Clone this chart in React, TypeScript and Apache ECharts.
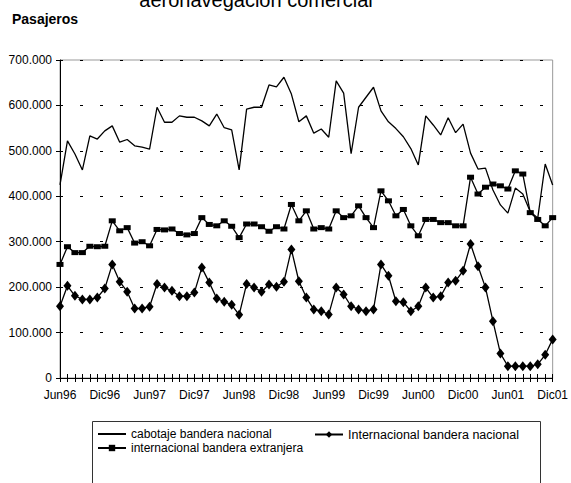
import React, { useEffect, useRef } from "react";
import * as echarts from "echarts";

const monthNames = ["Ene", "Feb", "Mar", "Abr", "May", "Jun", "Jul", "Ago", "Sep", "Oct", "Nov", "Dic"];
const categories: string[] = [];
for (let y = 1996; y <= 2001; y++) {
  for (let m = 0; m < 12; m++) {
    if (y === 1996 && m < 5) continue;
    categories.push(monthNames[m] + String(y).slice(2));
  }
}

const seriesNames = [
  "cabotaje bandera nacional",
  "Internacional bandera nacional",
  "internacional bandera extranjera",
];

const cabotaje = [
  425000, 522000, 493000, 458000, 533000, 526000, 544000, 555000, 519000, 525000,
  511000, 508000, 504000, 596000, 563000, 563000, 577000, 574000, 574000, 566000,
  555000, 581000, 551000, 546000, 458000, 592000, 596000, 596000, 645000, 641000,
  662000, 625000, 564000, 577000, 539000, 548000, 530000, 654000, 627000, 494000,
  596000, 618000, 640000, 588000, 564000, 549000, 531000, 505000, 469000, 577000,
  557000, 535000, 573000, 540000, 559000, 495000, 460000, 462000, 414000, 381000,
  363000, 418000, 405000, 366000, 352000, 471000, 425000,
];

const internacionalNacional = [
  158000, 203000, 181000, 173000, 173000, 177000, 197000, 250000, 212000, 190000,
  153000, 153000, 157000, 207000, 199000, 192000, 180000, 180000, 188000, 243000,
  210000, 175000, 168000, 161000, 139000, 207000, 199000, 190000, 206000, 201000,
  212000, 283000, 213000, 177000, 151000, 147000, 140000, 199000, 184000, 158000,
  151000, 147000, 151000, 250000, 225000, 169000, 167000, 147000, 158000, 199000,
  177000, 180000, 210000, 214000, 236000, 295000, 246000, 199000, 125000, 54000,
  26000, 26000, 26000, 26000, 30000, 51000, 85000,
];

const internacionalExtranjera = [
  250000, 289000, 276000, 276000, 290000, 289000, 290000, 346000, 324000, 331000,
  297000, 300000, 291000, 327000, 326000, 328000, 318000, 315000, 318000, 353000,
  338000, 335000, 346000, 334000, 309000, 339000, 339000, 333000, 323000, 333000,
  328000, 382000, 346000, 368000, 328000, 331000, 328000, 368000, 353000, 357000,
  379000, 353000, 331000, 412000, 390000, 357000, 371000, 335000, 313000, 349000,
  349000, 342000, 342000, 335000, 335000, 442000, 405000, 420000, 427000, 423000,
  416000, 456000, 449000, 364000, 349000, 335000, 353000,
];

const titleText = "aeronavegación comercial";
const yAxisTitle = "Pasajeros";

const FONT = "'Liberation Sans', Arial, sans-serif";

function fmt(v: number): string {
  return String(v).replace(/\B(?=(\d{3})+(?!\d))/g, ".");
}

export default function App() {
  const ref = useRef<HTMLDivElement>(null);
  useEffect(() => {
    if (!ref.current) return;
    const chart = echarts.init(ref.current, null, { renderer: "svg" });
    const legendText = { fontSize: 12, color: "#000", fontFamily: FONT };
    chart.setOption({
      animation: false,
      backgroundColor: "#ffffff",
      textStyle: { fontFamily: FONT },
      grid: {
        left: 60,
        top: 60,
        right: 18,
        bottom: 105,
        show: true,
        borderColor: "#999999",
        borderWidth: 1,
      },
      graphic: [
        {
          type: "text",
          x: 256,
          y: 0,
          style: {
            text: titleText,
            font: `20px ${FONT}`,
            fill: "#000",
            textAlign: "center",
            textVerticalAlign: "middle",
          },
        },
        {
          type: "text",
          x: 12,
          y: 18.5,
          style: {
            text: yAxisTitle,
            font: `bold 14px ${FONT}`,
            fill: "#000",
            textAlign: "left",
            textVerticalAlign: "middle",
          },
        },
        {
          type: "rect",
          shape: { x: 92.5, y: 421.5, width: 448, height: 80 },
          style: { fill: "none", stroke: "#333", lineWidth: 1 },
          z: 1,
        },
      ],
      legend: [
        {
          data: [
            { name: seriesNames[0], itemStyle: { opacity: 0 } },
            { name: seriesNames[2] },
          ],
          orient: "vertical",
          left: 97,
          top: 428,
          itemWidth: 28,
          itemHeight: 8,
          itemGap: 2,
          textStyle: legendText,
          padding: 0,
        },
        {
          data: [{ name: seriesNames[1] }],
          orient: "vertical",
          left: 314,
          top: 428,
          itemWidth: 28,
          itemHeight: 8,
          itemGap: 2,
          textStyle: { ...legendText, fontSize: 12.5 },
          padding: 0,
        },
      ],
      xAxis: [
        {
          type: "category",
          data: categories,
          boundaryGap: false,
          axisLine: { show: true, lineStyle: { color: "#000", width: 1 } },
          axisTick: { show: true, interval: 0, length: 4, lineStyle: { color: "#000" } },
          axisLabel: {
            interval: 5,
            margin: 11,
            fontSize: 12,
            color: "#000",
            fontFamily: FONT,
          },
          splitLine: { show: false },
        },
        {
          type: "category",
          data: categories,
          boundaryGap: false,
          position: "bottom",
          offset: 0,
          axisLine: { show: false },
          axisTick: { show: true, inside: true, interval: 0, length: 4, lineStyle: { color: "#000" } },
          axisLabel: { show: false },
          splitLine: { show: false },
        },
      ],
      yAxis: {
        type: "value",
        min: 0,
        max: 700000,
        interval: 100000,
        axisLine: { show: true, lineStyle: { color: "#000", width: 1 } },
        axisTick: { show: true, length: 4, lineStyle: { color: "#000" } },
        axisLabel: {
          margin: 8,
          fontSize: 12,
          color: "#000",
          fontFamily: FONT,
          formatter: (v: number) => fmt(v),
        },
        splitLine: {
          show: true,
          lineStyle: { color: "#000", width: 1, type: [3, 17] },
        },
      },
      series: [
        {
          name: seriesNames[0],
          type: "line",
          data: cabotaje,
          symbol: "none",
          showSymbol: false,
          lineStyle: { color: "#000", width: 1.3 },
          itemStyle: { color: "#000" },
          z: 3,
        },
        {
          name: seriesNames[1],
          type: "line",
          data: internacionalNacional,
          symbol: "diamond",
          symbolSize: [8, 10],
          showAllSymbol: true,
          lineStyle: { color: "#000", width: 1.3 },
          itemStyle: { color: "#000" },
          z: 4,
        },
        {
          name: seriesNames[2],
          type: "line",
          data: internacionalExtranjera,
          symbol: "rect",
          symbolSize: [7, 5],
          showAllSymbol: true,
          lineStyle: { color: "#000", width: 1.3 },
          itemStyle: { color: "#000" },
          z: 5,
        },
      ],
    });
    return () => chart.dispose();
  }, []);
  return (
    <div
      ref={ref}
      style={{ position: "absolute", left: 0, top: 0, width: 571, height: 483 }}
    />
  );
}
